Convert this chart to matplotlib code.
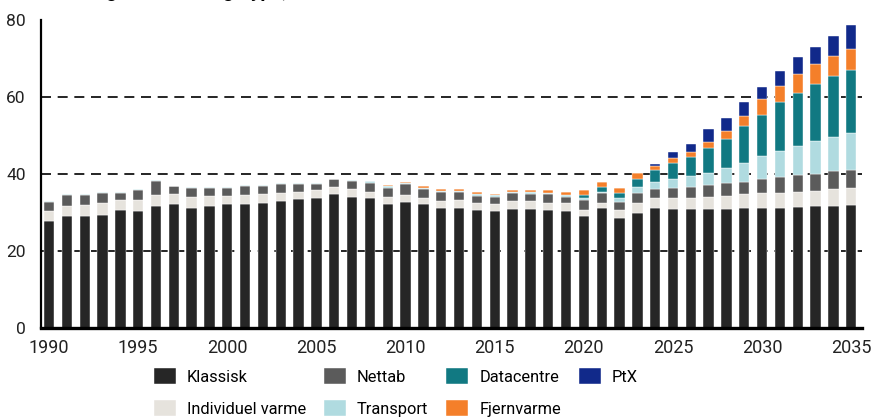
import matplotlib
matplotlib.use("Agg")
import matplotlib.pyplot as plt
import numpy as np

plt.rcParams['font.family'] = ['Roboto', 'DejaVu Sans']

# Data (TWh)
years = list(range(1990, 2036))

klassisk = [27.8, 29.0, 29.0, 29.4, 30.7, 30.4, 31.7, 32.1, 31.3, 31.7,
            32.1, 32.1, 32.6, 33.1, 33.4, 33.7, 34.7, 34.1, 33.7, 32.1,
            32.7, 32.1, 31.3, 31.3, 30.7, 30.4, 31.0, 31.0, 30.7, 30.4,
            29.1, 31.1, 28.5, 30.0, 31.1, 30.8, 30.8, 30.8, 30.8, 31.1,
            31.1, 31.1, 31.4, 31.7, 31.7, 32.0]
individuel_varme = [2.6, 2.7, 3.0, 3.0, 2.5, 2.9, 2.9, 2.6, 2.7, 2.7,
                    2.3, 2.4, 2.1, 2.0, 2.0, 2.1, 2.0, 1.9, 1.7, 1.9,
                    1.9, 1.6, 1.8, 2.0, 1.7, 1.9, 2.0, 2.0, 1.7, 2.0,
                    1.5, 1.5, 2.1, 2.6, 2.6, 2.9, 2.9, 3.3, 3.6, 3.6,
                    3.9, 3.9, 4.0, 4.0, 4.3, 4.4]
nettab = [2.4, 2.8, 2.6, 2.7, 2.0, 2.5, 3.6, 2.1, 2.4, 2.1,
          2.1, 2.4, 2.2, 2.4, 2.1, 1.7, 1.9, 2.2, 2.4, 2.4,
          2.7, 2.4, 2.3, 2.1, 2.0, 1.8, 2.1, 1.9, 2.4, 1.7,
          2.7, 2.4, 2.2, 2.5, 2.4, 2.7, 3.0, 3.0, 3.3, 3.3,
          3.7, 4.3, 4.3, 4.3, 4.7, 4.6]
transport = [0.2, 0.2, 0.2, 0.2, 0.2, 0.2, 0.2, 0.2, 0.2, 0.2,
             0.2, 0.2, 0.2, 0.2, 0.2, 0.3, 0.2, 0.2, 0.3, 0.4,
             0.3, 0.4, 0.3, 0.3, 0.4, 0.4, 0.3, 0.4, 0.4, 0.5,
             0.4, 0.4, 0.9, 1.6, 1.9, 2.3, 2.8, 3.3, 4.0, 5.0,
             6.1, 6.8, 7.7, 8.7, 9.0, 9.7]
datacentre = [0] * 30 + [0.9, 1.3, 1.3, 2.0, 3.0, 4.1, 5.0, 6.3, 7.4, 9.4,
                         10.5, 12.6, 13.6, 14.8, 15.7, 16.3]
fjernvarme = [0] * 19 + [0.3, 0.4, 0.3, 0.4, 0.4, 0.6, 0.4, 0.4, 0.5, 0.6, 0.7,
                         1.2, 1.3, 1.4, 1.5, 1.2, 1.3, 1.3, 1.7, 2.0, 2.7,
                         4.1, 4.3, 5.1, 5.1, 5.3, 5.6]
ptx = [0] * 33 + [0.2, 0.3, 1.7, 1.9, 3.3, 3.4, 3.6, 3.3, 3.8, 4.2, 4.3, 5.3, 6.1]

series = [
    ("Klassisk", klassisk, "#262626"),
    ("Individuel varme", individuel_varme, "#e6e3dd"),
    ("Nettab", nettab, "#5b5b5b"),
    ("Transport", transport, "#b0dbe0"),
    ("Datacentre", datacentre, "#117982"),
    ("Fjernvarme", fjernvarme, "#f47f2a"),
    ("PtX", ptx, "#11298a"),
]

fig = plt.figure(figsize=(8.76, 4.19), dpi=100)
ax = fig.add_axes([0.0468, 0.2172, 0.9372, 0.7348])

bottom = np.zeros(len(years))
for name, vals, col in series:
    vals = np.array(vals, dtype=float)
    ax.bar(years, vals, width=0.58, bottom=bottom, color=col, label=name,
           edgecolor='white', linewidth=0.3, zorder=3)
    bottom += vals

ax.set_ylim(0, 80)
ax.set_xlim(1989.55, 2035.6)
ax.set_yticks([0, 20, 40, 60, 80])
ax.set_xticks(range(1990, 2036, 5))

for yv in [20, 40, 60]:
    ax.axhline(yv, color='black', lw=1.2, ls=(0, (6, 4)), zorder=1)

for s in ['top', 'right']:
    ax.spines[s].set_visible(False)
ax.spines['left'].set_linewidth(1.6)
ax.spines['bottom'].set_linewidth(2.4)
ax.spines['bottom'].set_zorder(4)
ax.tick_params(axis='y', length=0, pad=11, labelsize=12.5, colors='#222222')
ax.tick_params(axis='x', length=0, pad=8, labelsize=13, colors='#222222')

# title sits above the canvas, only the descenders show
title_pre = "Elforbrug efter forbrugstype"
title = fig.text(0, 1.006, title_pre + ", TWh", fontsize=14,
                 fontweight='bold', ha='left', va='baseline')
probe = fig.text(0, 0, title_pre, fontsize=14, fontweight='bold')
r = fig.canvas.get_renderer()
w = probe.get_window_extent(r).width
probe.remove()
title.set_x((282 - w) / 876)

fig.legend(loc='lower center', bbox_to_anchor=(0.452, -0.03), ncol=4,
           frameon=False, fontsize=11.8, handlelength=1.34, handleheight=1.1,
           handletextpad=0.67, columnspacing=1.1, labelspacing=0.95)

fig.savefig("out.png", dpi=100)
